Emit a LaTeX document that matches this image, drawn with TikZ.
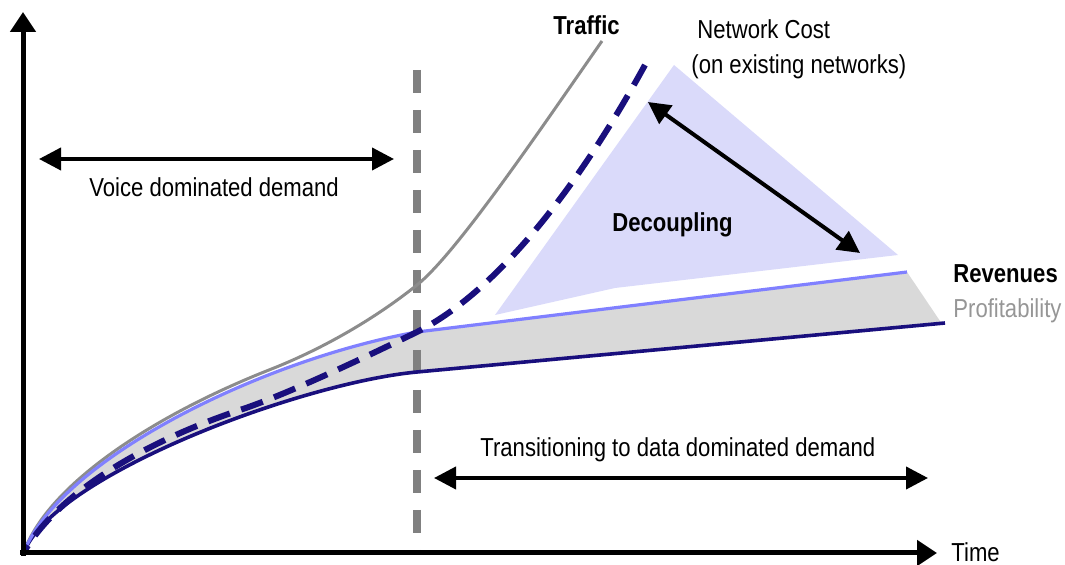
\documentclass[tikz,border=0pt]{standalone}
\usepackage{fontspec}
\setmainfont{Liberation Sans}[FakeStretch=0.85]
\usetikzlibrary{arrows.meta}
\definecolor{navyc}{RGB}{25,15,125}
\definecolor{revc}{RGB}{128,128,255}
\definecolor{lavc}{RGB}{218,218,250}
\definecolor{fillc}{RGB}{217,217,217}
\definecolor{trafc}{RGB}{140,140,140}
\definecolor{vdash}{RGB}{128,128,128}
\definecolor{proftxt}{RGB}{150,150,150}
\tikzset{
  lbl/.style={inner sep=0pt, anchor=base west, font=\fontsize{13}{15}\selectfont},
  blbl/.style={lbl, font=\fontsize{13}{15}\selectfont\bfseries},
  axisline/.style={line width=2.5pt, -{Triangle[length=10pt,width=12.5pt]}},
  spanarrow/.style={line width=2pt, {Triangle[length=11pt,width=11pt]}-{Triangle[length=11pt,width=11pt]}},
  trafficline/.style={line width=1.5pt, trafc},
  revline/.style={line width=1.6pt, revc},
  profline/.style={line width=1.8pt, navyc},
  costline/.style={line width=3pt, navyc, dash pattern=on 11.5pt off 6pt},
  phase/.style={line width=4pt, vdash, dash pattern=on 11.5pt off 8.5pt}
}
\begin{document}
\begin{tikzpicture}[x=0.5pt,y=-0.5pt]
\path[use as bounding box] (0,0) rectangle (1065,565);
% coordinates
\coordinate (O) at (24,552);
\coordinate (Ytop) at (23,12);
\coordinate (Xend) at (937,553);
\coordinate (Xstart) at (20,553);
\coordinate (Ybot) at (23,556);
\coordinate (phTop) at (417,70);
\coordinate (phBot) at (417,553);
\coordinate (vA) at (39,159);
\coordinate (vB) at (394,159);
\coordinate (tA) at (434,478);
\coordinate (tB) at (928,478);
\coordinate (dA) at (648,102);
\coordinate (dB) at (860,253);
\coordinate (triL) at (495,315);
\coordinate (triT) at (674,65);
\coordinate (triR) at (898,255);
\coordinate (triK) at (615,288);
\coordinate (revMid) at (417,332);
\coordinate (revEnd) at (907,272);
\coordinate (profMid) at (417,372);
\coordinate (profEnd) at (945,323);
\coordinate (fillR) at (940,321);
\coordinate (trafA) at (269,370);
\coordinate (trafB) at (417,285);
\coordinate (trafEnd) at (602,41);
\coordinate (costA) at (240,410);
\coordinate (costEnd) at (645,65);
% decoupling triangle
\fill[lavc] (triL) -- (triT) -- (triR) -- (triK) -- cycle;
% profitability fill
\fill[fillc] (O) .. controls (60,460) and (260,360) .. (revMid) -- (revEnd)
  -- (fillR) -- (profEnd) -- (profMid) .. controls (300,383) and (55,475) .. (O) -- cycle;
% phase line
\draw[phase] (phTop) -- (phBot);
% curves
\draw[trafficline] (O) .. controls (48,484) and (155,415) .. (trafA)
  .. controls (319,350.5) and (372,321) .. (trafB)
  .. controls (457,253) and (542,127) .. (trafEnd);
\draw[profline] (O) .. controls (55,475) and (300,383) .. (profMid) -- (profEnd);
\draw[revline] (O) .. controls (60,460) and (260,360) .. (revMid) -- (revEnd);
\draw[costline] (costEnd) .. controls (576,191) and (496,292) .. (revMid)
  .. controls (380,350) and (290,393.5) .. (costA)
  .. controls (150,440) and (60,490) .. (O);
% axes
\draw[axisline] (Ybot) -- (Ytop);
\draw[axisline] (Xstart) -- (Xend);
% span arrows
\draw[spanarrow] (vA) -- (vB);
\draw[spanarrow] (tA) -- (tB);
\draw[spanarrow] (dA) -- (dB);
% labels
\node[blbl] (traffic) at (553,35) {Traffic};
\node[lbl] (netcost) at (697,39) {Network Cost};
\node[lbl] (netcost2) at (691,74) {(on existing networks)};
\node[lbl] (voice) at (89,197) {Voice dominated demand};
\node[blbl] (decoupling) at (612,232) {Decoupling};
\node[blbl] (revenues) at (953,283) {Revenues};
\node[lbl, text=proftxt] (profit) at (953,318) {Profitability};
\node[lbl] (transition) at (480,457) {Transitioning to data dominated demand};
\node[lbl] (time) at (951,562) {Time};
\end{tikzpicture}
\end{document}
